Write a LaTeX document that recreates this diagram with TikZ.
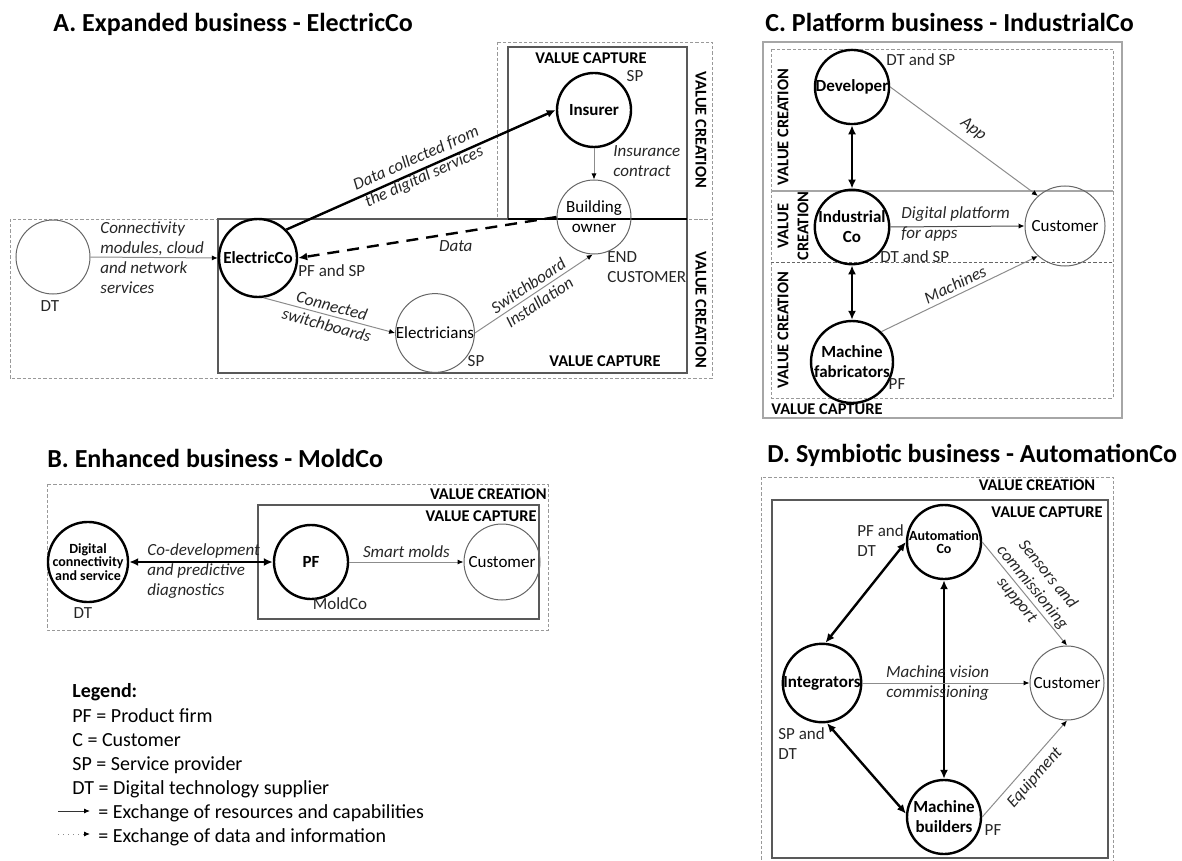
\documentclass[tikz,border=0pt]{standalone}
\usepackage{fontspec}
\setmainfont{Carlito}
\usetikzlibrary{arrows.meta}
\newcommand\fsA{\fontsize{8.5}{10}\selectfont}
\newcommand\fsV{\fontsize{8.2}{10}\selectfont}
\newcommand\fsT{\fontsize{13}{15}\selectfont}
\newcommand\fsL{\fontsize{10}{12}\selectfont}
\newcommand\fsS{\fontsize{7}{6.8}\selectfont}
\begin{document}
\begin{tikzpicture}[x=0.5pt,y=-0.5pt,
  bigc/.style={circle,draw=black,line width=1.2pt,minimum size=37pt,inner sep=0pt,align=center,font=\fsA\bfseries},
  thinc/.style={circle,draw=black!60,line width=0.5pt,minimum size=37pt,inner sep=0pt,align=center,font=\fsA},
  res/.style={draw=black!45,line width=0.5pt,-{Latex[length=3pt,width=2.6pt,color=black]}},
  thk/.style={draw=black,line width=1.2pt,-{Latex[length=4.5pt,width=4pt]}},
  dbl/.style={draw=black,line width=1.2pt,{Latex[length=4.5pt,width=4pt]}-{Latex[length=4.5pt,width=4pt]}},
  lbl/.style={font=\fsA\itshape,text=black!85,align=center,inner sep=1pt},
  txt/.style={font=\fsA,text=black!85,inner sep=0pt,align=left},
  vc/.style={font=\fsV\bfseries,inner sep=0pt,align=center},
  ttl/.style={font=\fsT\bfseries,anchor=base west,inner sep=0pt},
  dbox/.style={draw=black!40,line width=0.45pt,dash pattern=on 1.6pt off 1pt},
  sbox/.style={draw=black!65,line width=0.6pt},
  leg/.style={font=\fsL,anchor=west,inner sep=0pt}]
\useasboundingbox (0,0) rectangle (1182,861);

% ================= A =================
\node[ttl] (tA) at (53,32) {A. Expanded business - ElectricCo};
\draw[dbox] (10,219) rectangle (712,378);
\draw[dbox] (497,42) rectangle (712,219);
\draw[sbox] (218,219) rectangle (687,373);
\draw[sbox] (508,47) rectangle (687,219);
\draw[line width=1pt] (508,219) -- (687,219);
\node[vc] (aVC1) at (591,58) {VALUE CAPTURE};
\node[vc] (aVC2) at (605,361) {VALUE CAPTURE};
\node[vc,rotate=-90] (aVR1) at (701,130) {VALUE CREATION};
\node[vc,rotate=-90] (aVR2) at (701,310) {VALUE CREATION};

\node[thinc] (DTa) at (53,257) {};
\node[bigc,minimum size=39pt] (EC) at (258,258) {ElectricCo};
\node[bigc] (INS) at (594,110) {Insurer};
\node[thinc] (BO) at (594,217) {Building\\owner};
\node[thinc,minimum size=38pt] (EL) at (435,333) {Electricians};

\node[txt] (aDT) at (50,306) {DT};
\node[txt,anchor=west] (aPS) at (298,271) {PF and SP};
\node[txt] (aSP1) at (635,76) {SP};
\node[txt] (aSP2) at (476,361) {SP};
\node[txt,anchor=north west] (aEND) at (607,251) {END\\CUSTOMER};

\draw[res] (DTa.east) -- (EC.west);
\node[lbl,align=left,anchor=north west,inner sep=0pt] (aCM) at (100,221) {Connectivity\\modules, cloud\\and network\\services};
\draw[thk] (EC.45) -- node[lbl,sloped,yshift=1pt] {Data collected from\\the digital services} (INS.180);
\draw[thk,dash pattern=on 6pt off 4pt] (BO.west) -- node[lbl,pos=0.39,below=2pt] {Data} (EC.east);
\draw[res] (INS.south) -- (BO.north);
\node[lbl,align=left,anchor=north west,inner sep=0pt] (aIC) at (613,145) {Insurance\\contract};
\draw[res] (EC.-82) -- node[lbl,sloped] {Connected\\switchboards} (EL.west);
\draw[res] (EL.east) -- node[lbl,sloped] {Switchboard\\Installation} (BO.-92);

% ================= B =================
\node[ttl] (tB) at (47,467) {B. Enhanced business - MoldCo};
\draw[dbox] (47,484) rectangle (548,630);
\draw[sbox] (258,505) rectangle (539,619);
\node[vc,anchor=east] (bVR) at (547,494) {VALUE CREATION};
\node[vc,anchor=east] (bVC) at (537,516) {VALUE CAPTURE};
\node[bigc,minimum size=38pt,font=\fsS\bfseries] (DIG) at (88,562) {Digital\\connectivity\\and service};
\node[bigc] (PF) at (311,562) {PF};
\node[thinc,minimum size=38pt] (CUb) at (502,562) {Customer};
\node[txt] (bDT) at (83,613) {DT};
\node[txt] (bMC) at (340,604) {MoldCo};
\draw[dbl] (DIG.east) -- (PF.west);
\node[lbl,align=left,anchor=north west,inner sep=0pt] (bCD) at (147,543) {Co-development\\and predictive\\diagnostics};
\draw[res] (PF.east) -- node[lbl,above=1pt] {Smart molds} (CUb.west);

% ================= Legend =================
\node[leg,font=\fsL\bfseries] (lg0) at (72,692) {Legend:};
\node[leg] (lg1) at (72,716) {PF = Product firm};
\node[leg] (lg2) at (72,740) {C = Customer};
\node[leg] (lg3) at (72,765) {SP = Service provider};
\node[leg] (lg4) at (72,789) {DT = Digital technology supplier};
\coordinate (la1) at (58,811);
\coordinate (lb1) at (90,811);
\coordinate (la2) at (58,834);
\coordinate (lb2) at (90,834);
\draw[res,draw=black!80] (la1) -- (lb1);
\draw[res,dotted] (la2) -- (lb2);
\node[leg] (lg5) at (98,813) {= Exchange of resources and capabilities};
\node[leg] (lg6) at (98,837) {= Exchange of data and information};

% ================= C =================
\node[ttl] (tC) at (765,32) {C. Platform business - IndustrialCo};
\draw[draw=black!35,line width=0.8pt] (763,42) rectangle (1122,418);
\draw[dbox] (771,49) rectangle (1113,398);
\draw[draw=black!35,line width=0.6pt] (771,191) -- (1113,191);
\draw[dbox,draw=black!60] (771,262) -- (1113,262);
\node[vc,rotate=90] (cVR1) at (783,127) {VALUE CREATION};
\node[vc,rotate=90] (cVR2) at (793,226) {VALUE\\CREATION};
\node[vc,rotate=90] (cVR3) at (783,330) {VALUE CREATION};
\node[vc] (cVC) at (827,409) {VALUE CAPTURE};
\node[bigc] (DEV) at (852,87) {Developer};
\node[bigc] (IND) at (852,227) {Industrial\\Co};
\node[bigc] (MF) at (852,362) {Machine\\fabricators};
\node[thinc,minimum size=40pt] (CUc) at (1065,226) {Customer};
\node[txt,anchor=west] (cDS1) at (886,60) {DT and SP};
\node[txt,anchor=west] (cDS2) at (880,257) {DT and SP};
\node[txt] (cPF) at (897,384) {PF};
\draw[dbl] (DEV.south) -- (IND.north);
\draw[dbl] (IND.south) -- (MF.north);
\draw[res] (DEV.east) -- node[lbl,sloped,above=3pt] {App} (CUc.132);
\draw[res,draw=black!70] (IND.east) -- (CUc.west);
\node[lbl,align=left,anchor=west,inner sep=0pt] (cDP) at (901,224) {Digital platform\\for apps};
\draw[res] (MF.46) -- node[lbl,sloped,above=1pt] {Machines} (CUc.228);

% ================= D =================
\node[ttl] (tD) at (767,462) {D. Symbiotic business - AutomationCo};
\draw[dbox] (761,870) -- (761,477) -- (1113,477) -- (1113,870);
\draw[sbox] (772,500) rectangle (1108,858);
\node[vc] (dVR) at (1037,485) {VALUE CREATION};
\node[vc] (dVC) at (1047,512) {VALUE CAPTURE};
\node[bigc,font=\fsS\bfseries] (AUT) at (944,542) {Automation\\Co};
\node[bigc] (INT) at (822,683) {Integrators};
\node[bigc] (MB) at (944,817) {Machine\\builders};
\node[thinc] (CUd) at (1067,683) {Customer};
\node[txt,anchor=north west] (dPD) at (857,524) {PF and\\DT};
\node[txt,anchor=north west] (dSD) at (778,727) {SP and\\DT};
\node[txt] (dPF) at (993,830) {PF};
\draw[dbl] (AUT.west) -- (INT.85);
\draw[dbl] (INT.-83) -- (MB.175);
\draw[dbl] (AUT.south) -- (MB.north);
\draw[res] (AUT.east) -- node[lbl,sloped,yshift=5pt] {Sensors and\\commissioning\\support} (CUd.north);
\draw[res] (INT.east) -- node[lbl,pos=0.45] {Machine vision\\commissioning} (CUd.west);
\draw[res] (MB.east) -- node[lbl,sloped,below=2pt] {Equipment} (CUd.south);
\end{tikzpicture}
\end{document}
